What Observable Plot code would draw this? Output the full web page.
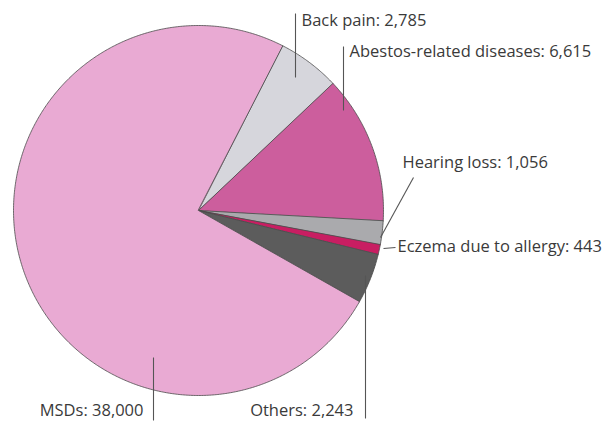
<!DOCTYPE html>
<html><head><meta charset="utf-8">
<script src="https://cdn.jsdelivr.net/npm/d3@7"></script>
<script src="https://cdn.jsdelivr.net/npm/@observablehq/plot@0.6"></script>
<style>body{margin:0;background:#fff;} svg{display:block;}</style>
</head><body><div id="chart"></div>
<script>
// ---- data ----
const categories = ["Back pain", "Abestos-related diseases", "Hearing loss", "Eczema due to allergy", "Others", "MSDs"];
const values = [2785, 6615, 1056, 443, 2243, 38000];
const colors = ["#d6d6dc", "#cc5e9d", "#aaaaad", "#c81e62", "#5c5c5c", "#e9aad3"];
const startAngleDeg = 27;

// ---- layout (pixels) for labels ----
const marginLeft = 13, marginTop = 25, R = 185;
const C = [marginLeft + R, marginTop + R];
const labelLayout = {
  "Back pain": {text: [301, 20], anchor: "start", line: [[295, 13], [295, 77]]},
  "Abestos-related diseases": {text: [349, 51], anchor: "start", line: [[343, 46], [343, 110]]},
  "Hearing loss": {text: [402, 162], anchor: "start", line: [[413, 177], [380, 237]]},
  "Eczema due to allergy": {text: [397, 246], anchor: "start", line: [[395, 247], [383, 248]]},
  "Others": {text: [353, 410], anchor: "end", line: [[365, 275], [365, 418]]},
  "MSDs": {text: [143, 410], anchor: "end", line: [[153, 357], [153, 420]]}
};
const toUnit = ([x, y]) => [(x - C[0]) / R, (y - C[1]) / R];

const rows = categories.map((c, i) => ({category: c, value: values[i]}));
const arcs = d3.pie().sort(null).value(d => d.value)
  .startAngle(startAngleDeg * Math.PI / 180)
  .endAngle(startAngleDeg * Math.PI / 180 + 2 * Math.PI)(rows);
const pt = (a) => [Math.sin(a), -Math.cos(a)];
const features = arcs.map(a => {
  const n = Math.max(2, Math.ceil((a.endAngle - a.startAngle) / (Math.PI / 360)));
  const ring = [[0, 0]];
  for (let k = 0; k <= n; k++) ring.push(pt(a.startAngle + (a.endAngle - a.startAngle) * k / n));
  ring.push([0, 0]);
  return {type: "Feature", properties: a.data, geometry: {type: "Polygon", coordinates: [ring]}};
});

const fmt = d3.format(",");
const labels = rows.map(r => {
  const L = labelLayout[r.category];
  const [tx, ty] = toUnit(L.text);
  const [x1, y1] = toUnit(L.line[0]);
  const [x2, y2] = toUnit(L.line[1]);
  return {label: `${r.category}: ${fmt(r.value)}`, anchor: L.anchor, tx, ty, x1, y1, x2, y2};
});

const textStyle = {fontSize: 16.5, fill: "#3a3a3a", fontFamily: "Open Sans"};
const chart = Plot.plot({
  width: 604, height: 424,
  marginLeft, marginTop, marginRight: 604 - marginLeft - 2 * R, marginBottom: 424 - marginTop - 2 * R,
  style: {fontFamily: "Open Sans", background: "#fff"},
  projection: {type: "identity", clip: false, domain: {type: "MultiPoint", coordinates: [[-1, -1], [1, 1]]}},
  color: {domain: categories, range: colors},
  marks: [
    Plot.geo(features, {fill: d => d.properties.category, stroke: "#4a4a4a", strokeWidth: 0.8}),
    Plot.link(labels, {x1: "x1", y1: "y1", x2: "x2", y2: "y2", stroke: "#555", strokeWidth: 1.1, curve: "linear"}),
    Plot.text(labels.filter(d => d.anchor === "start"), {x: "tx", y: "ty", text: "label", textAnchor: "start", ...textStyle}),
    Plot.text(labels.filter(d => d.anchor === "end"), {x: "tx", y: "ty", text: "label", textAnchor: "end", ...textStyle})
  ]
});
document.getElementById("chart").append(chart);
</script>
</body></html>
